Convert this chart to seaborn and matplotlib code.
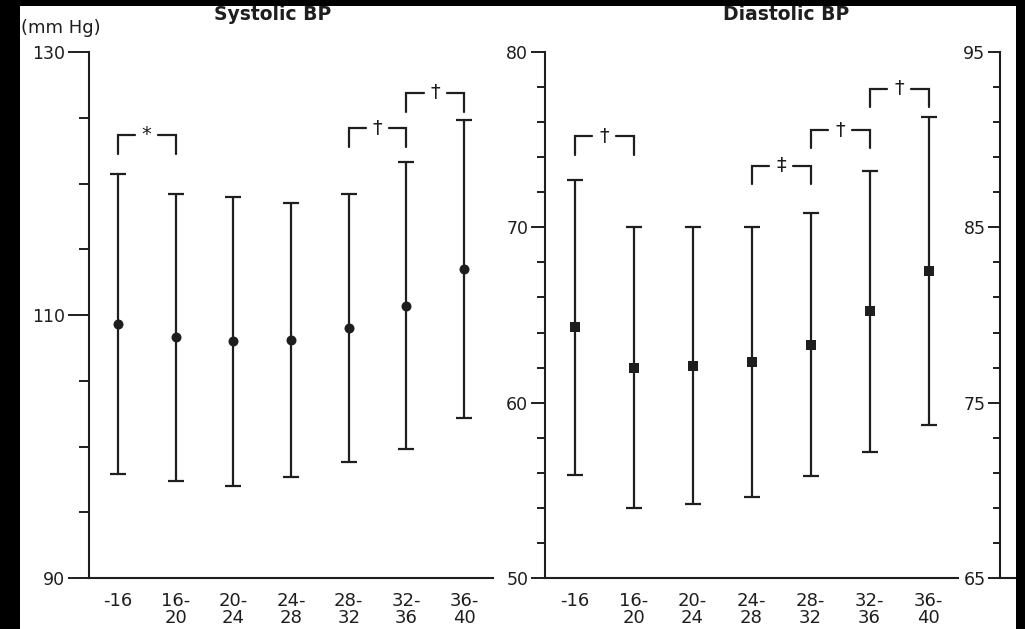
import numpy as np
import pandas as pd
import matplotlib
matplotlib.use("Agg")
import matplotlib.pyplot as plt
import seaborn as sns
from matplotlib.patches import Rectangle
from matplotlib.ticker import FixedLocator, NullFormatter

# ---------------- data ----------------
categories = ["-16", "16-\n20", "20-\n24", "24-\n28", "28-\n32", "32-\n36", "36-\n40"]

sbp_mean = [109.3, 108.3, 108.0, 108.1, 109.0, 110.7, 113.5]
sbp_sd = [11.4, 10.9, 11.0, 10.4, 10.2, 10.9, 11.3]

dbp_mean = [64.3, 62.0, 62.1, 62.3, 63.3, 65.2, 67.5]
dbp_sd = [8.4, 8.0, 7.9, 7.7, 7.5, 8.0, 8.8]

sbp_ticks_major = [90, 110, 130]
sbp_ticks_minor = [90, 95, 100, 105, 110, 115, 120, 125, 130]
dbp_ticks_major = [50, 60, 70, 80]
dbp_ticks_minor = list(range(50, 81, 2))
third_ticks_major = [65, 75, 85, 95]
third_ticks_minor = list(range(65, 96, 2))

# significance brackets: (left index, right index, symbol, bracket top value)
sbp_sig = [(0, 1, "*", 123.7), (4, 5, "\u2020", 124.2), (5, 6, "\u2020", 126.9)]
dbp_sig = [(0, 1, "\u2020", 75.2), (3, 4, "\u2021", 73.5), (4, 5, "\u2020", 75.55), (5, 6, "\u2020", 77.9)]

# ---------------- style ----------------
sns.set_theme(style="white")
plt.rcParams["font.family"] = ["DejaVu Sans"]
ink = "#1e1e1e"
W, H = 1025, 629

fig = plt.figure(figsize=(W / 100, H / 100), dpi=100, facecolor="black")
# white page region (the rest is the black border of the crop)
fig.patches.append(Rectangle((20 / W, 0), (1016 - 20) / W, (H - 6) / H,
                             transform=fig.transFigure, facecolor="white",
                             edgecolor="none", zorder=-10))


def px_axes(left, right, top, bottom):
    return fig.add_axes([left / W, 1 - bottom / H, (right - left) / W, (bottom - top) / H])


def style_axes(ax, ylim, major, minor, maj_len, min_len, xlabels):
    ax.set_facecolor("none")
    ax.set_ylim(*ylim)
    ax.set_xlim(-0.5, len(categories) - 0.5)
    ax.set_xticks(range(len(xlabels)))
    ax.set_xticklabels(xlabels, fontsize=13, color=ink, linespacing=0.95)
    ax.yaxis.set_major_locator(FixedLocator(major))
    ax.yaxis.set_minor_locator(FixedLocator(minor))
    ax.yaxis.set_minor_formatter(NullFormatter())
    ax.set_yticklabels([str(v) for v in major], fontsize=12.5, color=ink)
    ax.tick_params(axis="y", which="major", left=True, length=maj_len, width=1.4, color=ink, pad=2)
    ax.tick_params(axis="y", which="minor", left=True, length=min_len, width=1.4, color=ink)
    ax.tick_params(axis="x", which="both", bottom=False, length=0, pad=10)
    for s in ["top", "right"]:
        ax.spines[s].set_visible(False)
    for s in ["left", "bottom"]:
        ax.spines[s].set_color(ink)
        ax.spines[s].set_linewidth(1.5)
    ax.set_xlabel("")
    ax.set_ylabel("")
    ax.grid(False)


def draw_panel(ax, mean, sd, marker, msize, sig, leg):
    df = pd.DataFrame({"group": categories, "value": mean})
    sns.pointplot(data=df, x="group", y="value", order=categories, ax=ax,
                  color=ink, errorbar=None, linestyle="none", marker=marker,
                  markersize=msize, markeredgewidth=0, zorder=3)
    ax.errorbar(np.arange(len(categories)), mean, yerr=sd, fmt="none",
                ecolor=ink, elinewidth=1.6, capsize=5.5, capthick=1.6, zorder=2)
    for i, j, sym, top in sig:
        mid = (i + j) / 2
        ax.plot([i, i, mid - 0.2], [top - leg, top, top], color=ink, lw=1.6,
                solid_joinstyle="miter", clip_on=False)
        ax.plot([mid + 0.2, j, j], [top, top, top - leg], color=ink, lw=1.6,
                solid_joinstyle="miter", clip_on=False)
        ax.text(mid, top, sym, ha="center", va="center", fontsize=14, color=ink)


# Systolic panel
ax1 = px_axes(89, 493, 52, 578)
draw_panel(ax1, sbp_mean, sbp_sd, "o", 7.2, sbp_sig, 1.45)
style_axes(ax1, (90, 130), sbp_ticks_major, sbp_ticks_minor, 15, 7, categories)

# Diastolic panel
ax2 = px_axes(545, 958, 52, 578)
draw_panel(ax2, dbp_mean, dbp_sd, "s", 6.8, dbp_sig, 1.05)
style_axes(ax2, (50, 80), dbp_ticks_major, dbp_ticks_minor, 10, 5.5, categories)

# Third panel (cut off at the right edge of the crop)
ax3 = px_axes(1000, 1415, 52, 578)
style_axes(ax3, (65, 95), third_ticks_major, third_ticks_minor, 8.5, 5, categories[:1])

# titles and unit label
fig.text(273 / W, 1 - 14 / H, "Systolic BP", ha="center", va="center",
         fontsize=13.5, fontweight="bold", color=ink)
fig.text(786 / W, 1 - 14 / H, "Diastolic BP", ha="center", va="center",
         fontsize=13.5, fontweight="bold", color=ink)
fig.text(21 / W, 1 - 28 / H, "(mm Hg)", ha="left", va="center",
         fontsize=13, color=ink)

# black borders of the crop drawn on top
for (x0, y0, w, h) in [(0, 0, 20, H), (1016, 0, W - 1016, H), (0, H - 6, W, 6)]:
    fig.patches.append(Rectangle((x0 / W, y0 / H), w / W, h / H,
                                 transform=fig.transFigure, facecolor="black",
                                 edgecolor="none", zorder=100))

fig.savefig("out.png", dpi=100, facecolor=fig.get_facecolor())
